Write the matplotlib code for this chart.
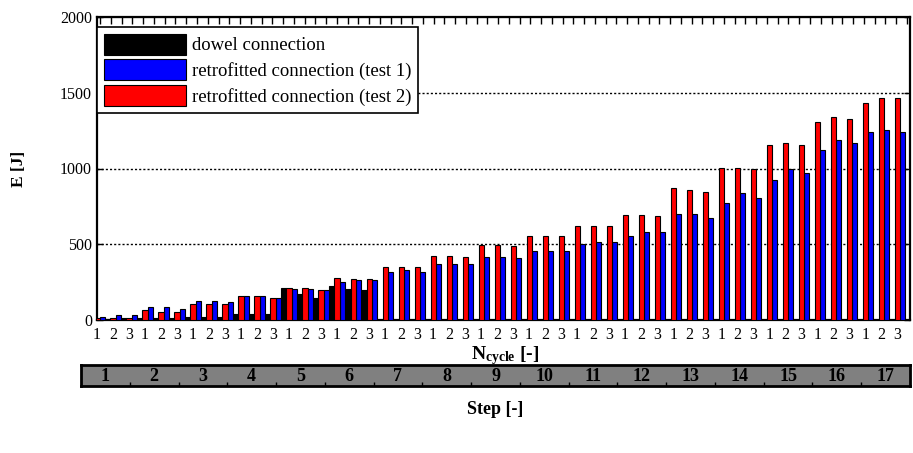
# energy per cycle bar chart, 17 steps x 3 cycles
import numpy as np
import matplotlib as mpl
import matplotlib.pyplot as plt

plt.rcParams['font.family'] = ['Liberation Serif', 'DejaVu Serif']
plt.rcParams['mathtext.fontset'] = 'custom'
plt.rcParams['mathtext.rm'] = 'Liberation Serif'
plt.rcParams['mathtext.bf'] = 'Liberation Serif:bold'

#data, one value per cycle
steps = [str(i) for i in range(1, 18)]
cycles = ['1', '2', '3'] * 17
dowel = [10, 8, 10, 10, 10, 10, 21, 20, 20, 42, 42, 42,
         213, 169, 147, 224, 207, 201]          # only steps 1-6
test1 = [20, 30, 30, 85, 85, 74, 127, 125, 118, 158, 158, 147,
         202, 202, 197, 252, 262, 262, 317, 328, 317, 369, 369, 369,
         413, 413, 406, 458, 458, 458, 502, 513, 513, 553, 578, 578,
         698, 698, 676, 773, 837, 804, 922, 997, 973, 1124, 1190, 1168,
         1243, 1254, 1243]
test2 = [15, 15, 15, 64, 53, 53, 105, 103, 107, 158, 158, 147,
         213, 210, 200, 274, 273, 273, 347, 347, 347, 425, 425, 414,
         498, 498, 487, 553, 553, 553, 618, 618, 618, 696, 696, 685,
         870, 857, 848, 1006, 1006, 997, 1155, 1168, 1155, 1309, 1340, 1329,
         1434, 1467, 1467]

x = np.arange(len(test1))
w = 0.32

fig = plt.figure(figsize=(9.13, 4.53), dpi=100)
ax = fig.add_axes([97/913, 1-320/453, 813/913, 303/453])

ax.bar(np.arange(len(dowel)) - w, dowel, w, color='black', edgecolor='black', lw=0.8,
       label='dowel connection', zorder=3)
ax.bar(x + w, test1, w, color='#0000ff', edgecolor='black', lw=0.8,
       label='retrofitted connection (test 1)', zorder=3)
ax.bar(x, test2, w, color='#ff0000', edgecolor='black', lw=0.8,
       label='retrofitted connection (test 2)', zorder=3)

ax.set_xlim(0, 50.8)
ax.set_ylim(0, 2000)
ax.set_yticks([0, 500, 1000, 1500, 2000])
ax.set_xticks(x)
ax.set_xticklabels(cycles, fontsize=11.5)
ax.tick_params(axis='x', length=0, pad=5)
ax.tick_params(axis='y', direction='in', length=4, right=True, labelsize=11.5, width=1)
for yv in [500, 1000, 1500]:
    ax.axhline(yv, color='black', ls=(0, (1.5, 1.5)), lw=1, zorder=1)
for s in ax.spines.values():
    s.set_linewidth(1.6)

# little ticks along the top edge
top = ax.secondary_xaxis('top')
top.set_xticks(np.linspace(0.2, 50.6, 76))
top.tick_params(direction='in', length=5, labeltop=False, width=1)

ax.set_ylabel('E [J]', fontsize=12.5, fontweight='bold', labelpad=24)
fig.text(505/913, 1-356/453, r'$\mathbf{N_{cycle}}$ [-]', ha='center', va='center',
         fontsize=14, fontweight='bold')

# legend order: black, blue, red
h, l = ax.get_legend_handles_labels()
leg = ax.legend([h[0], h[1], h[2]], [l[0], l[1], l[2]], loc='upper left',
                bbox_to_anchor=(0.0, 0.967), borderaxespad=0, fontsize=13.5,
                handlelength=4.4, handleheight=1.35, labelspacing=0.25,
                handletextpad=0.3, borderpad=0.35, fancybox=False, framealpha=1)
leg.get_frame().set_edgecolor('black')
leg.get_frame().set_linewidth(1.2)

# step band below
ax2 = fig.add_axes([81/913, 1-386/453, 829/913, 21/453])
ax2.set_facecolor('#808080')
ax2.set_xlim(0, 17)
ax2.set_ylim(0, 1)
ax2.set_yticks([])
ax2.set_xticks(np.arange(1, 17))
ax2.set_xticklabels([])
ax2.tick_params(axis='x', direction='in', length=3, width=1)
for i, s in enumerate(steps):
    ax2.text(i + 0.5, 0.45, s, ha='center', va='center', fontsize=13, fontweight='bold')
for s in ax2.spines.values():
    s.set_linewidth(2)
fig.text(495/913, 1-410/453, 'Step [-]', ha='center', va='center', fontsize=13, fontweight='bold')

plt.savefig('out.png', dpi=100)
